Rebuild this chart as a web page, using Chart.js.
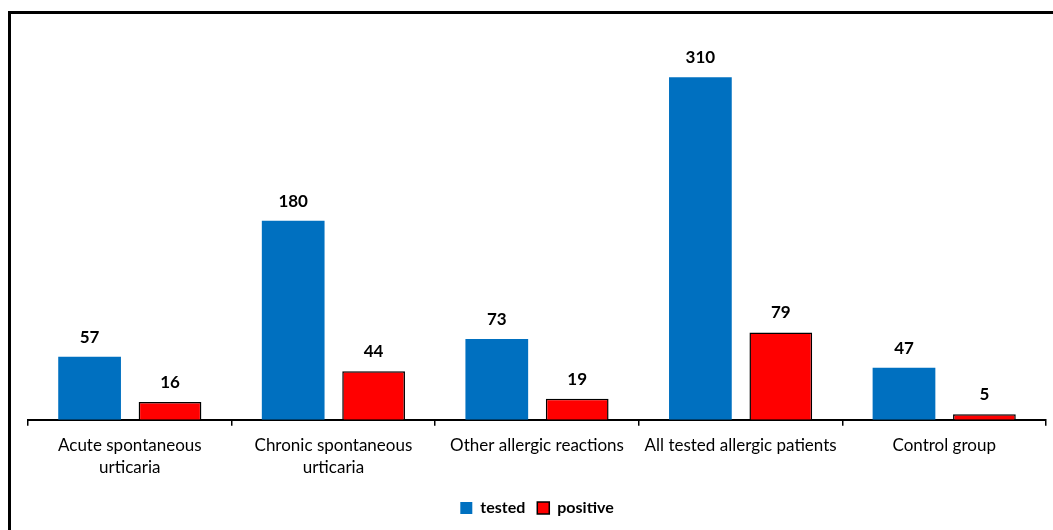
<!DOCTYPE html>
<html>
<head>
<meta charset="utf-8">
<script src="https://cdn.jsdelivr.net/npm/chart.js@4"></script>
<style>
  html, body { margin: 0; padding: 0; overflow: hidden; background: #fff; }
  #frame { position: absolute; left: 8px; top: 11px; width: 1200px; height: 700px;
           border-top: 3px solid #000; border-left: 3px solid #000; }
  #wrap { position: absolute; left: 0; top: 0; width: 1053px; height: 530px; }
</style>
</head>
<body>
<div id="frame"></div>
<div id="wrap"><canvas id="myChart" width="1053" height="530"></canvas></div>
<script>
const categories = [
  ['Acute spontaneous', 'urticaria'],
  ['Chronic spontaneous', 'urticaria'],
  'Other allergic reactions',
  'All tested allergic patients',
  'Control group'
];
const tested = [57, 180, 73, 310, 47];
const positive = [16, 44, 19, 79, 5];

// value labels above each bar
const barLabels = {
  id: 'barLabels',
  afterDatasetsDraw(chart) {
    const ctx = chart.ctx;
    ctx.save();
    ctx.font = 'bold 17px Lato';
    ctx.fillStyle = '#000';
    ctx.textAlign = 'center';
    ctx.textBaseline = 'bottom';
    chart.data.datasets.forEach((ds, i) => {
      chart.getDatasetMeta(i).data.forEach((bar, j) => {
        ctx.fillText(ds.data[j], bar.x, bar.y - 11);
      });
    });
    ctx.restore();
  }
};

const ctx = document.getElementById('myChart').getContext('2d');

const myChart = new Chart(ctx, {
  type: 'bar',
  data: {
    labels: categories,
    datasets: [{
      label: 'tested',
      data: tested,
      backgroundColor: '#0070C0',
      borderColor: '#0070C0',
      borderWidth: 0,
      categoryPercentage: 0.79,
      barPercentage: 0.78
    }, {
      label: 'positive',
      data: positive,
      backgroundColor: '#FF0000',
      borderColor: '#000',
      borderWidth: 1.5,
      categoryPercentage: 0.79,
      barPercentage: 0.78
    }]
  },
  options: {
    responsive: false,
    animation: false,
    layout: {
      padding: { left: 28, right: 7, top: 33, bottom: 4 }
    },
    scales: {
      x: {
        grid: {
          display: true,
          drawOnChartArea: false,
          drawTicks: true,
          tickLength: 6,
          color: '#000',
          lineWidth: 1.5
        },
        border: { display: true, color: '#000', width: 2 },
        ticks: {
          color: '#000',
          padding: 9,
          maxRotation: 0,
          font: { family: 'Lato', size: 17, lineHeight: 1.3 }
        }
      },
      y: {
        display: false,
        min: 0,
        max: 350
      }
    },
    plugins: {
      legend: {
        position: 'bottom',
        labels: {
          color: '#000',
          boxWidth: 12,
          boxHeight: 12,
          padding: 12,
          font: { family: 'Lato', size: 16, weight: 'bold' }
        }
      },
      tooltip: { enabled: false }
    }
  },
  plugins: [barLabels]
});
</script>
</body>
</html>
